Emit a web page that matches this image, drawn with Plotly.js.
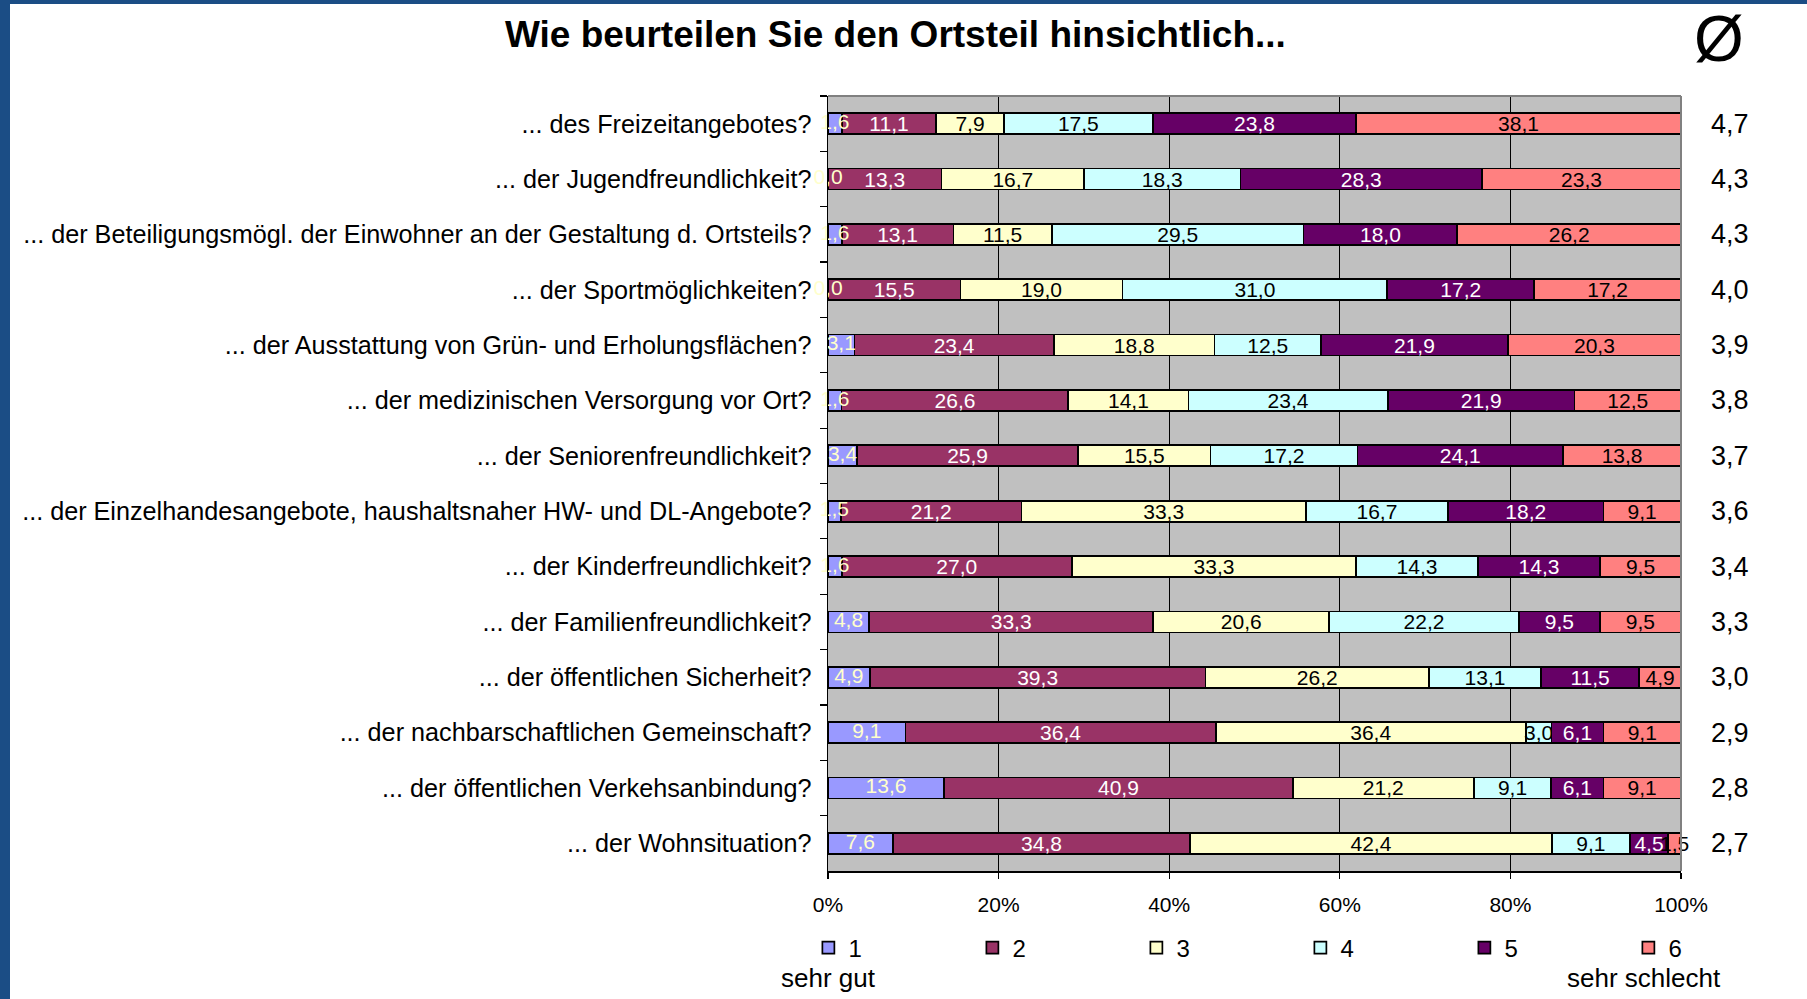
<!DOCTYPE html>
<html>
<head>
<meta charset="utf-8">
<script src="https://cdn.plot.ly/plotly-3.0.1.min.js"></script>
<style>
  html, body { margin: 0; padding: 0; background: #ffffff; }
  #wrap { position: relative; width: 1807px; height: 999px; overflow: hidden; }
  #chart { position: absolute; left: 0; top: 0; width: 1807px; height: 999px; }
  .bl { position: absolute; left: 0; top: 0; width: 10px; height: 999px; background: #1b4d85; }
  .bt { position: absolute; left: 0; top: 0; width: 1807px; height: 4px; background: #1b4d85; }
</style>
</head>
<body>
<div id="wrap">
  <div id="chart"></div>
  <div class="bl"></div>
  <div class="bt"></div>
</div>
<script>
// Categories (top to bottom)
const categories = [
  "... des Freizeitangebotes?",
  "... der Jugendfreundlichkeit?",
  "... der Beteiligungsmögl. der Einwohner an der Gestaltung d. Ortsteils?",
  "... der Sportmöglichkeiten?",
  "... der Ausstattung von Grün- und Erholungsflächen?",
  "... der medizinischen Versorgung vor Ort?",
  "... der Seniorenfreundlichkeit?",
  "... der Einzelhandesangebote, haushaltsnaher HW- und DL-Angebote?",
  "... der Kinderfreundlichkeit?",
  "... der Familienfreundlichkeit?",
  "... der öffentlichen Sicherheit?",
  "... der nachbarschaftlichen Gemeinschaft?",
  "... der öffentlichen Verkehsanbindung?",
  "... der Wohnsituation?"
];

// Series values (percent), rating 1 (sehr gut) .. 6 (sehr schlecht)
const s1 = [1.6, 0.0, 1.6, 0.0, 3.1, 1.6, 3.4, 1.5, 1.6, 4.8, 4.9, 9.1, 13.6, 7.6];
const s2 = [11.1, 13.3, 13.1, 15.5, 23.4, 26.6, 25.9, 21.2, 27.0, 33.3, 39.3, 36.4, 40.9, 34.8];
const s3 = [7.9, 16.7, 11.5, 19.0, 18.8, 14.1, 15.5, 33.3, 33.3, 20.6, 26.2, 36.4, 21.2, 42.4];
const s4 = [17.5, 18.3, 29.5, 31.0, 12.5, 23.4, 17.2, 16.7, 14.3, 22.2, 13.1, 3.0, 9.1, 9.1];
const s5 = [23.8, 28.3, 18.0, 17.2, 21.9, 21.9, 24.1, 18.2, 14.3, 9.5, 11.5, 6.1, 6.1, 4.5];
const s6 = [38.1, 23.3, 26.2, 17.2, 20.3, 12.5, 13.8, 9.1, 9.5, 9.5, 4.9, 9.1, 9.1, 1.5];

// Average rating per category
const averages = [4.7, 4.3, 4.3, 4.0, 3.9, 3.8, 3.7, 3.6, 3.4, 3.3, 3.0, 2.9, 2.8, 2.7];

const seriesNames = ["1", "2", "3", "4", "5", "6"];
const tickLabels = ["0%", "20%", "40%", "60%", "80%", "100%"];
const tickValues = [0, 20, 40, 60, 80, 100];

const seriesData = [s1, s2, s3, s4, s5, s6];
const colors = ["#9999FF", "#993366", "#FFFFCC", "#CCFFFF", "#660066", "#FF8080"];
const textColors = ["#FFFFCC", "#FFFFFF", "#000000", "#000000", "#FFFFFF", "#000000"];

const fmt = v => v.toFixed(1).replace('.', ',');
const FONT = "Liberation Sans, Arial, Helvetica, sans-serif";

const traces = seriesData.map((vals, i) => ({
  type: 'bar',
  orientation: 'h',
  name: seriesNames[i],
  y: categories,
  x: vals,
  width: 0.38,
  marker: { color: colors[i], line: { color: '#000000', width: 1.7 } },
  text: vals.map(fmt),
  texttemplate: '%{text}',
  textposition: i === 0 ? 'none' : 'inside',
  insidetextanchor: 'middle',
  constraintext: 'none',
  textangle: 0,
  textfont: { family: FONT, size: 21, color: textColors[i] },
  cliponaxis: false,
  hoverinfo: 'x+y+name'
}));

// Labels for series 1 (also shown for zero-width segments), centred in the segment
const sums = categories.map((c, k) => seriesData.reduce((a, s) => a + s[k], 0));
traces.push({
  type: 'scatter',
  mode: 'text',
  x: s1.map((v, k) => v / sums[k] * 100 / 2),
  y: categories,
  text: s1.map(fmt),
  textposition: 'middle center',
  textfont: { family: FONT, size: 21, color: textColors[0] },
  cliponaxis: false,
  showlegend: false,
  hoverinfo: 'skip'
});

const annotations = categories.map((c, k) => ({
  xref: 'paper', yref: 'y',
  x: 1.0328, y: c,
  xanchor: 'left', yanchor: 'middle',
  text: fmt(averages[k]),
  showarrow: false,
  font: { family: FONT, size: 27, color: '#000000' }
}));
annotations.push({
  xref: 'paper', yref: 'paper', x: 1.0445, y: 1.074,
  xanchor: 'center', yanchor: 'middle',
  text: 'Ø', showarrow: false,
  font: { family: FONT, size: 64, color: '#000000' }
});
annotations.push({
  xref: 'paper', yref: 'paper', x: 0.0, y: -0.138,
  xanchor: 'center', yanchor: 'middle',
  text: 'sehr gut', showarrow: false,
  font: { family: FONT, size: 26, color: '#000000' }
});
annotations.push({
  xref: 'paper', yref: 'paper', x: 0.9566, y: -0.138,
  xanchor: 'center', yanchor: 'middle',
  text: 'sehr schlecht', showarrow: false,
  font: { family: FONT, size: 26, color: '#000000' }
});

const layout = {
  width: 1807,
  height: 999,
  margin: { l: 828, r: 126, t: 96, b: 128, pad: 0, autoexpand: false },
  paper_bgcolor: '#FFFFFF',
  plot_bgcolor: '#C0C0C0',
  barmode: 'stack',
  barnorm: 'percent',
  separators: ',.',
  font: { family: FONT, color: '#000000' },
  title: {
    text: '<b>Wie beurteilen Sie den Ortsteil hinsichtlich...</b>',
    font: { family: FONT, size: 37, color: '#000000' },
    xref: 'container', yref: 'container',
    x: 0.4955, xanchor: 'center',
    y: 0.966, yanchor: 'middle'
  },
  xaxis: {
    range: [0, 100],
    tickvals: tickValues,
    ticktext: tickLabels,
    ticks: 'outside', ticklen: 6, tickwidth: 1.2, tickcolor: '#000000',
    ticklabelstandoff: 8,
    showline: true, linecolor: '#000000', linewidth: 1.5,
    showgrid: true, gridcolor: '#000000', gridwidth: 1,
    zeroline: false,
    tickfont: { family: FONT, size: 21, color: '#000000' },
    fixedrange: true
  },
  yaxis: {
    type: 'category',
    categoryorder: 'array',
    categoryarray: categories,
    range: [categories.length - 0.5, -0.5],
    autorange: false,
    tickson: 'boundaries',
    ticks: 'outside', ticklen: 7, tickwidth: 1.2, tickcolor: '#000000',
    ticklabelstandoff: 10,
    showline: true, linecolor: '#000000', linewidth: 1.5,
    showgrid: false, zeroline: false,
    tickfont: { family: FONT, size: 25.2, color: '#000000' },
    fixedrange: true
  },
  legend: {
    orientation: 'h',
    x: -0.023, xanchor: 'left',
    y: -0.0994, yanchor: 'middle',
    entrywidth: 119, entrywidthmode: 'pixels',
    traceorder: 'normal',
    font: { family: FONT, size: 24, color: '#000000' },
    bgcolor: 'rgba(0,0,0,0)'
  },
  shapes: [
    { type: 'line', xref: 'paper', yref: 'paper', x0: 0, x1: 1, y0: 1, y1: 1,
      line: { color: '#808080', width: 2 }, layer: 'above' },
    { type: 'line', xref: 'paper', yref: 'paper', x0: 1, x1: 1, y0: 0, y1: 1,
      line: { color: '#808080', width: 2 }, layer: 'above' }
  ],
  annotations: annotations,
  showlegend: true
};

Plotly.newPlot('chart', traces, layout, { displayModeBar: false, staticPlot: true });
</script>
</body>
</html>
